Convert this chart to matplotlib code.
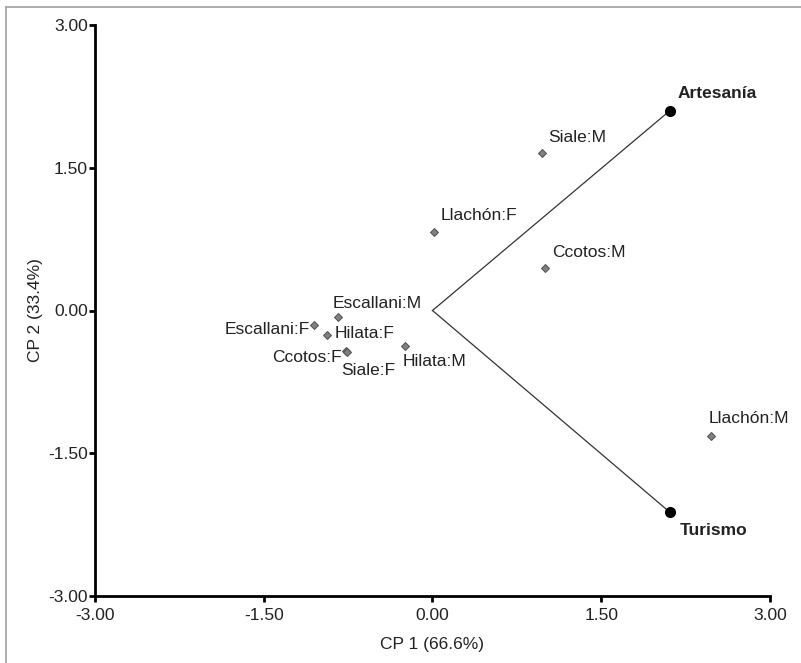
import numpy as np
import matplotlib.pyplot as plt
from matplotlib.lines import Line2D

plt.rcParams['font.family'] = ['Liberation Sans', 'DejaVu Sans']

# === Data (biplot scores) ===
obs_names = ['Siale:M', 'Llachón:F', 'Ccotos:M', 'Llachón:M', 'Escallani:M',
             'Escallani:F', 'Hilata:F', 'Ccotos:F', 'Siale:F', 'Hilata:M']
obs_cp1 = [0.97, 0.01, 1.00, 2.48, -0.84, -1.05, -0.94, -0.77, -0.76, -0.24]
obs_cp2 = [1.65, 0.83, 0.45, -1.32, -0.07, -0.15, -0.26, -0.43, -0.44, -0.37]

var_names = ['Artesanía', 'Turismo']
var_cp1 = [2.11, 2.11]
var_cp2 = [2.10, -2.12]

ticks = [-3.0, -1.5, 0.0, 1.5, 3.0]
xlabel = 'CP 1 (66.6%)'
ylabel = 'CP 2 (33.4%)'

# label placement (offset in pixels, horizontal alignment)
obs_offsets = {
    'Siale:M': (7, 16, 'left'), 'Llachón:F': (7, 16, 'left'),
    'Ccotos:M': (7, 15, 'left'), 'Llachón:M': (-3, 18, 'left'),
    'Escallani:M': (-5, 14, 'left'), 'Escallani:F': (-4, -5, 'right'),
    'Hilata:F': (8, 2, 'left'), 'Ccotos:F': (-4, -6, 'right'),
    'Siale:F': (-6, -18, 'left'), 'Hilata:M': (-3, -16, 'left'),
}
var_offsets = {'Artesanía': (8, 17), 'Turismo': (10, -18)}

txt_col = '#222222'

# === Plotting ===
fig = plt.figure(figsize=(8.01, 6.63), dpi=100)
ax = fig.add_axes([95 / 801, 67 / 663, 675 / 801, 571 / 663])

for x, y in zip(var_cp1, var_cp2):
    ax.plot([0, x], [0, y], color='#333333', lw=0.9, zorder=2)

ax.plot(obs_cp1, obs_cp2, ls='none', marker='D', ms=4.5, mfc='#808080',
        mec='#505050', mew=0.7, zorder=3, clip_on=False)
ax.plot(var_cp1, var_cp2, ls='none', marker='o', ms=7, color='black',
        zorder=4, clip_on=False)

for name, x, y in zip(obs_names, obs_cp1, obs_cp2):
    dx, dy, ha = obs_offsets[name]
    ax.annotate(name, (x, y), xytext=(dx, dy), textcoords='offset pixels',
                ha=ha, va='center', fontsize=12.5, color=txt_col)

for name, x, y in zip(var_names, var_cp1, var_cp2):
    dx, dy = var_offsets[name]
    ax.annotate(name, (x, y), xytext=(dx, dy), textcoords='offset pixels',
                ha='left', va='center', fontsize=12.5, fontweight='bold',
                color=txt_col)

# Axes and aesthetics
ax.set_xlim(-3, 3)
ax.set_ylim(-3, 3)
ax.set_xticks(ticks)
ax.set_yticks(ticks)
ax.set_xticklabels([f'{t:.2f}' for t in ticks])
ax.set_yticklabels([f'{t:.2f}' for t in ticks])
for s in ['top', 'right']:
    ax.spines[s].set_visible(False)
for s in ['left', 'bottom']:
    ax.spines[s].set_linewidth(2)
ax.tick_params(direction='out', length=4, width=2, labelsize=12.5,
               labelcolor=txt_col)
ax.tick_params(axis='y', pad=1)
ax.tick_params(axis='x', pad=5)
ax.set_xlabel(xlabel, fontsize=12.5, color=txt_col, labelpad=9.5)
ax.set_ylabel(ylabel, fontsize=12.5, color=txt_col, labelpad=4)

# outer frame (top and left only visible)
fig.add_artist(Line2D([6 / 801, 1], [1 - 7 / 663, 1 - 7 / 663],
                      transform=fig.transFigure, color='#a0a0a0', lw=1.2))
fig.add_artist(Line2D([6 / 801, 6 / 801], [0, 1 - 7 / 663],
                      transform=fig.transFigure, color='#a0a0a0', lw=1.2))

fig.savefig('out.png', dpi=100)
